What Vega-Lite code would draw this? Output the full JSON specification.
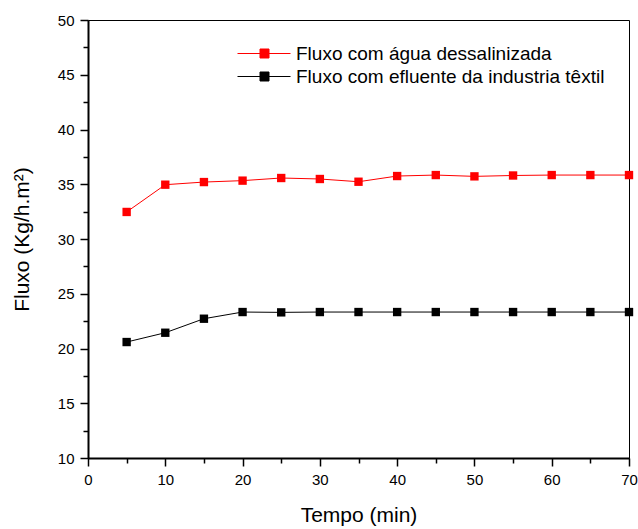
{
  "$schema": "https://vega.github.io/schema/vega-lite/v6.json",
  "width": 541,
  "height": 438,
  "autosize": {"type": "none"},
  "padding": {"left": 88, "top": 20, "right": 9, "bottom": 71},
  "background": "white",
  "config": {
    "font": "Liberation Sans",
    "view": {"stroke": "black", "strokeWidth": 1},
    "axis": {
      "grid": false,
      "domainColor": "black",
      "domainWidth": 2,
      "tickColor": "black",
      "tickWidth": 1.5,
      "labelColor": "black",
      "labelFont": "Liberation Sans",
      "labelFontSize": 15,
      "titleFont": "Liberation Sans",
      "titleFontSize": 21,
      "titleFontWeight": "normal",
      "titleColor": "black"
    }
  },
  "data": {
    "values": [
      {"t": 5, "f": 32.47, "s": "Fluxo com água dessalinizada"},
      {"t": 10, "f": 34.96, "s": "Fluxo com água dessalinizada"},
      {"t": 15, "f": 35.2, "s": "Fluxo com água dessalinizada"},
      {"t": 20, "f": 35.33, "s": "Fluxo com água dessalinizada"},
      {"t": 25, "f": 35.57, "s": "Fluxo com água dessalinizada"},
      {"t": 30, "f": 35.48, "s": "Fluxo com água dessalinizada"},
      {"t": 35, "f": 35.23, "s": "Fluxo com água dessalinizada"},
      {"t": 40, "f": 35.75, "s": "Fluxo com água dessalinizada"},
      {"t": 45, "f": 35.84, "s": "Fluxo com água dessalinizada"},
      {"t": 50, "f": 35.72, "s": "Fluxo com água dessalinizada"},
      {"t": 55, "f": 35.8, "s": "Fluxo com água dessalinizada"},
      {"t": 60, "f": 35.84, "s": "Fluxo com água dessalinizada"},
      {"t": 65, "f": 35.84, "s": "Fluxo com água dessalinizada"},
      {"t": 70, "f": 35.84, "s": "Fluxo com água dessalinizada"},
      {"t": 5, "f": 20.59, "s": "Fluxo com efluente da industria têxtil"},
      {"t": 10, "f": 21.44, "s": "Fluxo com efluente da industria têxtil"},
      {"t": 15, "f": 22.72, "s": "Fluxo com efluente da industria têxtil"},
      {"t": 20, "f": 23.33, "s": "Fluxo com efluente da industria têxtil"},
      {"t": 25, "f": 23.3, "s": "Fluxo com efluente da industria têxtil"},
      {"t": 30, "f": 23.33, "s": "Fluxo com efluente da industria têxtil"},
      {"t": 35, "f": 23.33, "s": "Fluxo com efluente da industria têxtil"},
      {"t": 40, "f": 23.33, "s": "Fluxo com efluente da industria têxtil"},
      {"t": 45, "f": 23.33, "s": "Fluxo com efluente da industria têxtil"},
      {"t": 50, "f": 23.33, "s": "Fluxo com efluente da industria têxtil"},
      {"t": 55, "f": 23.33, "s": "Fluxo com efluente da industria têxtil"},
      {"t": 60, "f": 23.33, "s": "Fluxo com efluente da industria têxtil"},
      {"t": 65, "f": 23.33, "s": "Fluxo com efluente da industria têxtil"},
      {"t": 70, "f": 23.33, "s": "Fluxo com efluente da industria têxtil"}
    ]
  },
  "encoding": {
    "x": {
      "field": "t",
      "type": "quantitative",
      "scale": {"domain": [0, 70], "nice": false, "zero": false},
      "axis": {
        "title": "Tempo (min)",
        "values": [0, 5, 10, 15, 20, 25, 30, 35, 40, 45, 50, 55, 60, 65, 70],
        "labelExpr": "datum.value % 10 === 0 ? datum.label : ''",
        "tickSize": {"condition": {"test": "datum.value % 10 === 0", "value": 8}, "value": 5},
        "labelPadding": 6,
        "labelFlush": false,
        "labelOverlap": false,
        "titlePadding": 17
      }
    },
    "y": {
      "field": "f",
      "type": "quantitative",
      "scale": {"domain": [10, 50], "nice": false, "zero": false},
      "axis": {
        "title": "Fluxo (Kg/h.m²)",
        "values": [10, 12.5, 15, 17.5, 20, 22.5, 25, 27.5, 30, 32.5, 35, 37.5, 40, 42.5, 45, 47.5, 50],
        "labelExpr": "datum.value % 5 === 0 ? datum.label : ''",
        "tickSize": {"condition": {"test": "datum.value % 5 === 0", "value": 8}, "value": 5},
        "labelPadding": 6,
        "labelFlush": false,
        "labelOverlap": false,
        "titlePadding": 25
      }
    },
    "color": {
      "field": "s",
      "type": "nominal",
      "scale": {
        "domain": ["Fluxo com água dessalinizada", "Fluxo com efluente da industria têxtil"],
        "range": ["#ff0000", "#000000"]
      },
      "legend": {
        "title": null,
        "orient": "none",
        "legendX": 167,
        "legendY": 24,
        "symbolType": "M-5.4,0H5.2M-0.9,-0.9H0.9V0.9H-0.9Z",
        "symbolSize": 100,
        "symbolStrokeWidth": 1,
        "labelFontSize": 19,
        "labelFont": "Liberation Sans",
        "labelColor": "black",
        "labelOffset": 22,
        "rowPadding": 3,
        "labelLimit": 400,
        "encode": {
          "symbols": {
            "update": {
              "fill": {"scale": "color", "field": "value"},
              "stroke": {"scale": "color", "field": "value"},
              "strokeWidth": {"value": 1},
              "opacity": {"value": 1}
            }
          }
        }
      }
    }
  },
  "layer": [
    {"mark": {"type": "line", "strokeWidth": 1}},
    {"mark": {"type": "point", "shape": "square", "filled": true, "size": 70, "opacity": 1}}
  ]
}
